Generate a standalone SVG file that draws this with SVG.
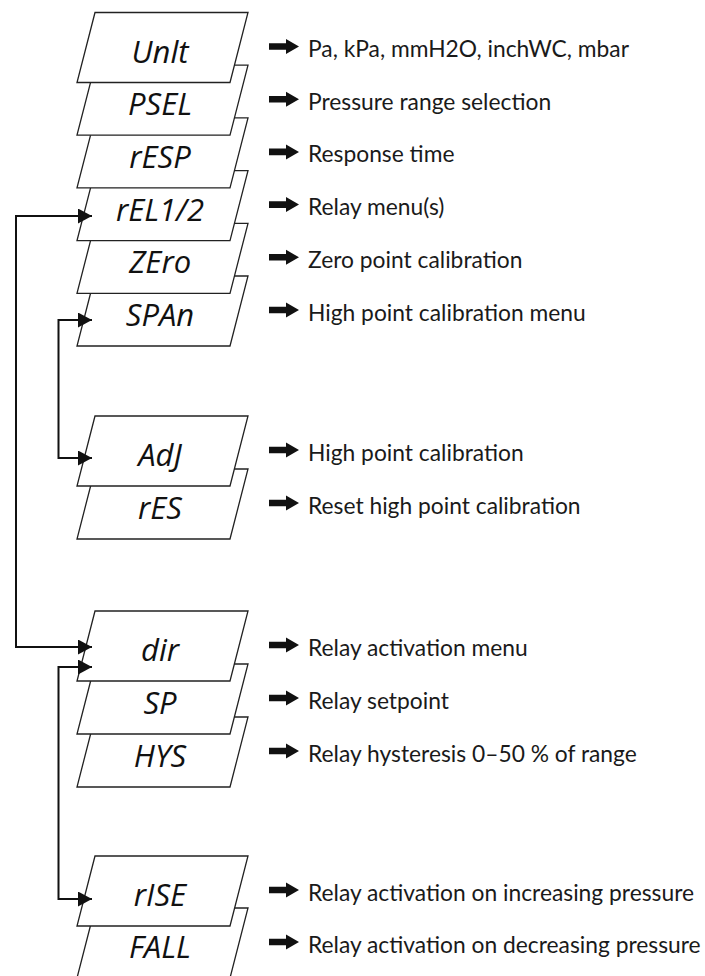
<svg xmlns="http://www.w3.org/2000/svg" width="705" height="976" viewBox="0 0 705 976">
<defs>
<style>
.box{fill:#fff;stroke:#222;stroke-width:1.3;stroke-linejoin:miter}
.nm{font-family:"Open Sans","DejaVu Sans",sans-serif;font-style:italic;font-size:31px;fill:#111;text-anchor:middle}
.lb{font-family:Lato,"Liberation Sans",sans-serif;font-size:22.8px;fill:#1a1a1a}
.ar{fill:#111}
.con{fill:none;stroke:#111;stroke-width:2;marker-start:url(#ah);marker-end:url(#ah)}
</style>
<marker id="ah" viewBox="0 0 14 15" refX="14" refY="7.5" markerWidth="14" markerHeight="15" markerUnits="userSpaceOnUse" orient="auto-start-reverse">
<path d="M0,0 L14,7.5 L0,15 Z" fill="#111"/>
</marker>
<path id="bx" d="M95,0 H248 L230,70 H77 Z"/>
<path id="ra" d="M269,-3.3 H286 V-7.5 L299,0 L286,7.5 V3.3 H269 Z"/>
</defs>

<g id="node-FALL" transform="translate(0,908)"><use href="#bx" class="box"/><text class="nm" x="160" y="50">FALL</text><use href="#ra" class="ar" y="34"/><text class="lb" x="308" y="44.5">Relay activation on decreasing pressure</text></g>
<g id="node-rISE" transform="translate(0,856)"><use href="#bx" class="box"/><text class="nm" x="160" y="50">rISE</text><use href="#ra" class="ar" y="34"/><text class="lb" x="308" y="44.5">Relay activation on increasing pressure</text></g>

<g id="node-HYS" transform="translate(0,717)"><use href="#bx" class="box"/><text class="nm" x="160" y="50">HYS</text><use href="#ra" class="ar" y="34"/><text class="lb" x="308" y="44.5">Relay hysteresis 0–50 % of range</text></g>
<g id="node-SP" transform="translate(0,664)"><use href="#bx" class="box"/><text class="nm" x="160" y="50">SP</text><use href="#ra" class="ar" y="34"/><text class="lb" x="308" y="44.5">Relay setpoint</text></g>
<g id="node-dir" transform="translate(0,611)"><use href="#bx" class="box"/><text class="nm" x="160" y="50">dir</text><use href="#ra" class="ar" y="34"/><text class="lb" x="308" y="44.5">Relay activation menu</text></g>

<g id="node-rES" transform="translate(0,469)"><use href="#bx" class="box"/><text class="nm" x="160" y="50">rES</text><use href="#ra" class="ar" y="34"/><text class="lb" x="308" y="44.5">Reset high point calibration</text></g>
<g id="node-AdJ" transform="translate(0,416)"><use href="#bx" class="box"/><text class="nm" x="160" y="50">AdJ</text><use href="#ra" class="ar" y="34"/><text class="lb" x="308" y="44.5">High point calibration</text></g>

<g id="node-SPAn" transform="translate(0,276)"><use href="#bx" class="box"/><text class="nm" x="160" y="50">SPAn</text><use href="#ra" class="ar" y="34"/><text class="lb" x="308" y="44.5">High point calibration menu</text></g>
<g id="node-ZEro" transform="translate(0,223.3)"><use href="#bx" class="box"/><text class="nm" x="160" y="50">ZEro</text><use href="#ra" class="ar" y="34"/><text class="lb" x="308" y="44.5">Zero point calibration</text></g>
<g id="node-rEL" transform="translate(0,170.6)"><use href="#bx" class="box"/><text class="nm" x="160" y="50">rEL1/2</text><use href="#ra" class="ar" y="34"/><text class="lb" x="308" y="44.5">Relay menu(s)</text></g>
<g id="node-rESP" transform="translate(0,117.9)"><use href="#bx" class="box"/><text class="nm" x="160" y="50">rESP</text><use href="#ra" class="ar" y="34"/><text class="lb" x="308" y="44.5">Response time</text></g>
<g id="node-PSEL" transform="translate(0,65.2)"><use href="#bx" class="box"/><text class="nm" x="160" y="50">PSEL</text><use href="#ra" class="ar" y="34"/><text class="lb" x="308" y="44.5">Pressure range selection</text></g>
<g id="node-Unlt" transform="translate(0,12.5)"><use href="#bx" class="box"/><text class="nm" x="160" y="50">Unlt</text><use href="#ra" class="ar" y="34"/><text class="lb" x="308" y="44.5">Pa, kPa, mmH2O, inchWC, mbar</text></g>

<g id="connectors">
<path class="con" d="M92,216 H16 V647 H92"/>
<path class="con" d="M92,320 H58.5 V458 H92"/>
<path class="con" d="M92,667 H58.5 V899 H92"/>
</g>
</svg>
